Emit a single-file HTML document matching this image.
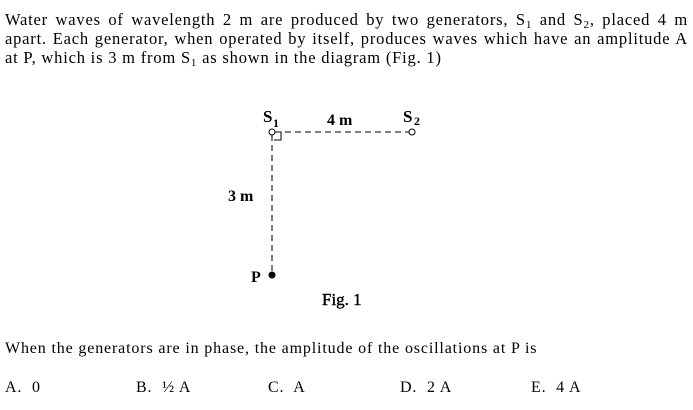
<!DOCTYPE html>
<html><head><style>
body{margin:0;width:693px;height:410px;background:#fff;font-family:"Liberation Serif",serif;color:#000;position:relative;overflow:hidden}
.l{position:absolute;left:5px;width:683px;font-size:16.5px;letter-spacing:0.8px;line-height:19px;text-align:justify;text-align-last:justify;white-space:nowrap}
.t{position:absolute;font-size:16px;letter-spacing:0.85px;white-space:nowrap}
sub{font-size:11px;vertical-align:-3px;line-height:0}
</style></head><body>
<div class="l" style="top:10px">Water waves of wavelength 2 m are produced by two generators, S<sub>1</sub> and S<sub>2</sub>, placed 4 m</div>
<div class="l" style="top:29px">apart. Each generator, when operated by itself, produces waves which have an amplitude A</div>
<div class="l" style="top:48px;text-align-last:left">at P, which is 3 m from S<sub>1</sub> as shown in the diagram (Fig. 1)</div>
<svg width="693" height="410" style="position:absolute;left:0;top:0" font-family="Liberation Serif" font-weight="bold">
<line x1="275" y1="132" x2="409" y2="132" stroke="#000" stroke-dasharray="6,4"/>
<line x1="272" y1="135" x2="272" y2="274" stroke="#000" stroke-dasharray="6,4"/>
<polyline points="276,132 281,132 281,140 274,140" fill="none" stroke="#000"/>
<circle cx="272" cy="132" r="3" fill="#fff" stroke="#000"/>
<circle cx="412" cy="132" r="3" fill="#fff" stroke="#000"/>
<circle cx="272" cy="275" r="3.5" fill="#000"/>
<text x="263" y="122" font-size="17">S</text><text x="273" y="127" font-size="12">1</text>
<text x="403" y="122" font-size="17">S</text><text x="414" y="125" font-size="12">2</text>
<text x="327" y="125" font-size="16">4 m</text>
<text x="228" y="201" font-size="16">3 m</text>
<text x="251" y="282" font-size="16">P</text>
<text x="322" y="305" font-size="17" font-weight="normal" stroke="#000" stroke-width="0.4">Fig. 1</text>
</svg>
<div class="t" style="left:5px;top:340px">When the generators are in phase, the amplitude of the oscillations at P is</div>
<div class="t" style="left:5px;top:379px">A.&nbsp; 0</div>
<div class="t" style="left:136px;top:379px">B.&nbsp; ½ A</div>
<div class="t" style="left:268px;top:379px">C.&nbsp; A</div>
<div class="t" style="left:400px;top:379px">D.&nbsp; 2 A</div>
<div class="t" style="left:531px;top:379px">E.&nbsp; 4 A</div>
</body></html>
